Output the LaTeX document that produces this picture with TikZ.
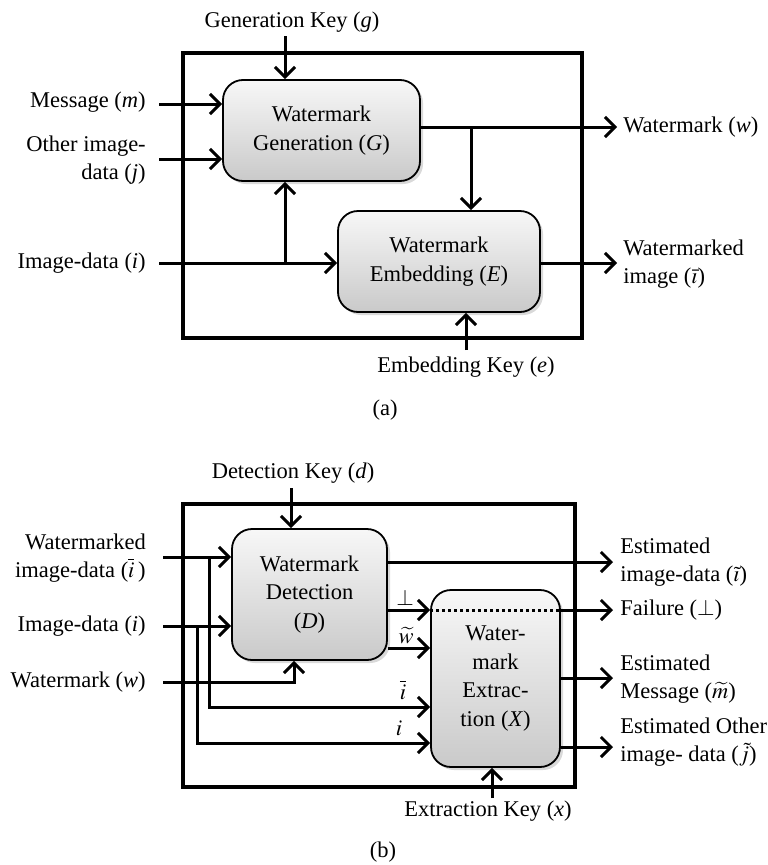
\documentclass[tikz,border=0pt]{standalone}
\usepackage{mathptmx}
\usepackage[no-math]{fontspec}
\setmainfont{Liberation Serif}
\usepackage{tikz}
\usetikzlibrary{arrows.meta,shadows}
\tikzset{every picture/.style={line width=.55pt}}

\begin{document}
\begin{tikzpicture}[x=1pt,y=-1pt,
 every node/.style={font=\fontsize{22.5}{28.5}\selectfont,inner sep=1pt},
 frame/.style={line width=4.5pt},
 arr/.style={line width=3pt,-{Straight Barb[length=10pt,width=20pt]}},
 blk/.style={draw,line width=1.8pt,rounded corners=20pt,align=center,
  top color=gray!6,bottom color=gray!42,
  drop shadow={shadow xshift=3pt,shadow yshift=-3pt,opacity=.3}}]
 \useasboundingbox (0,0) rectangle (768,865);

 % (a) generation and embedding
 \draw[frame] (183,53) rectangle (582,338);
 \node[blk,minimum width=197pt,minimum height=101pt] (gen) at (321.5,130.5)
  {Watermark\\Generation (\textit{G})};
 \node[blk,minimum width=202pt,minimum height=101pt] (emb) at (439,261.5)
  {Watermark\\Embedding (\textit{E})};
 \node (gkey) at (292,22) {Generation Key (\textit{g})};
 \node[anchor=east] (msg) at (147,102) {Message (\textit{m})};
 \node[anchor=east,align=right] (oth) at (147,160) {Other image-\\data (\textit{j})};
 \node[anchor=east] (img) at (147,263) {Image-data (\textit{i})};
 \node[anchor=west] (wm) at (622,127) {Watermark (\textit{w})};
 \node[anchor=west,align=left] (wmi) at (622,264)
  {Watermarked\\image ($\bar{\imath}$)};
 \node (ekey) at (466,367) {Embedding Key (\textit{e})};
 \node (capa) at (385,410) {(a)};
 \coordinate (g0) at (285,36);
 \coordinate (m0) at (159,104);
 \coordinate (j0) at (159,159);
 \coordinate (i0) at (159,263);
 \coordinate (ib) at (285,263);
 \coordinate (wb) at (471,127);
 \coordinate (e0) at (466,350);
 \draw[arr] (g0) -- (g0 |- gen.north);
 \draw[arr] (m0) -- (m0 -| gen.west);
 \draw[arr] (j0) -- (j0 -| gen.west);
 \draw[arr] (i0) -- (i0 -| emb.west);
 \draw[arr] (ib) -- (ib |- gen.south);
 \draw[arr] (gen.east |- wm.west) -- ([xshift=-5pt]wm.west);
 \draw[arr] (wb) -- (wb |- emb.north);
 \draw[arr] (emb.east |- i0) -- ([xshift=-5pt]wmi.west |- i0);
 \draw[arr] (e0) -- (e0 |- emb.south);

 % (b) detection and extraction
 \draw[frame] (183,504) rectangle (575,787);
 \node[blk,minimum width=155pt,minimum height=131pt] (det) at (309.5,594.5)
  {Watermark\\Detection\\(\textit{D})};
 \node[blk,minimum width=129pt,minimum height=177pt] (ext) at (495.5,678.5)
  {Water-\\mark\\Extrac-\\tion (\textit{X})};
 \node (dkey) at (293,473) {Detection Key (\textit{d})};
 \node[anchor=east,align=right] (wmd) at (147,558)
  {Watermarked\\image-data ($\overline{i}$\,)};
 \node[anchor=east] (imd) at (147,626) {Image-data (\textit{i})};
 \node[anchor=east] (wmk) at (147,682) {Watermark (\textit{w})};
 \node[anchor=west,align=left] (est1) at (619,562)
  {Estimated\\image-data ($\tilde{\imath}$)};
 \node[anchor=west] (fail) at (619,610) {Failure ($\perp$)};
 \node[anchor=west,align=left] (est2) at (619,679)
  {Estimated\\Message ($\widetilde{m}$)};
 \node[anchor=west,align=left] (est3) at (619,742)
  {Estimated Other\\image- data ($\tilde{j}$)};
 \node (xkey) at (488,811) {Extraction Key (\textit{x})};
 \node (capb) at (383,852) {(b)};
 \node[inner sep=0pt] (lbot) at (405,598) {$\perp$};
 \node[inner sep=0pt] (lw) at (406,636) {$\widetilde{w}$};
 \node[inner sep=0pt] (libar) at (403,690) {$\overline{i}$};
 \node[inner sep=0pt] (li) at (399,728) {$i$};
 \coordinate (d0) at (291,488);
 \coordinate (a0) at (163,557);
 \coordinate (a1) at (209,557);
 \coordinate (b0) at (163,626);
 \coordinate (b1) at (197,626);
 \coordinate (c0) at (163,682);
 \coordinate (c1) at (294,682);
 \coordinate (x0) at (492,798);
 \draw[arr] (d0) -- (d0 |- det.north);
 \draw[arr] (a0) -- (a0 -| det.west);
 \draw[arr] (a1) |- (ext.west |- 0,707);
 \draw[arr] (b0) -- (b0 -| det.west);
 \draw[arr] (b1) |- (ext.west |- 0,743);
 \draw[arr] (c0) -- (c1) -- (c1 |- det.south);
 \draw[arr] (det.east |- est1.west) -- ([xshift=-6pt]est1.west);
 \draw[arr] (det.east |- fail.west) -- (ext.west |- fail.west);
 \draw[arr] (det.east |- 0,648) -- (ext.west |- 0,648);
 \draw[line width=3pt,dash pattern=on 3pt off 3pt]
  (ext.west |- fail.west) -- (ext.east |- fail.west);
 \draw[arr] (ext.east |- fail.west) -- ([xshift=-6pt]fail.west);
 \draw[arr] (ext.east |- 0,678) -- ([xshift=-6pt]est2.west |- 0,678);
 \draw[arr] (ext.east |- 0,747) -- ([xshift=-6pt]est3.west |- 0,747);
 \draw[arr] (x0) -- (x0 |- ext.south);
\end{tikzpicture}
\end{document}
